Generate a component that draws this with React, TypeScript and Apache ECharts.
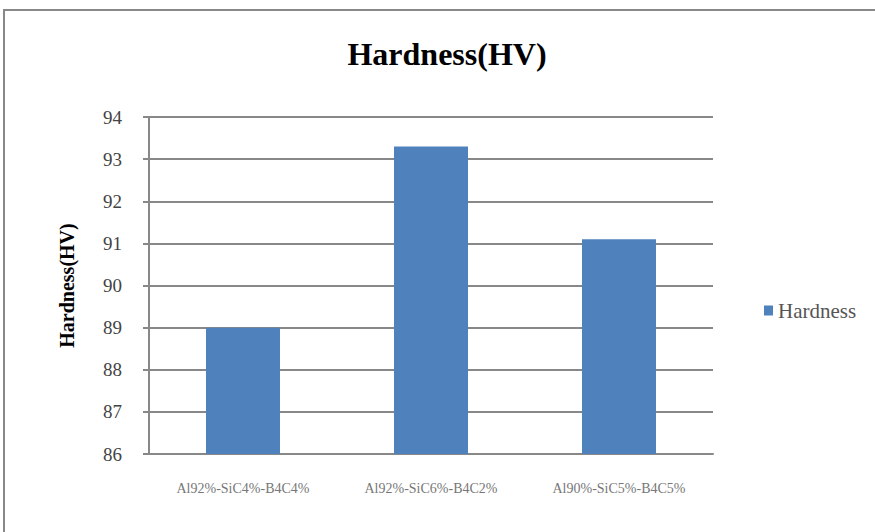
import React, { useEffect, useRef } from "react";
import * as echarts from "echarts";

const categories = ["Al92%-SiC4%-B4C4%", "Al92%-SiC6%-B4C2%", "Al90%-SiC5%-B4C5%"];
const hardness = [89.0, 93.3, 91.1];
const seriesName = "Hardness";
const titleText = "Hardness(HV)";
const yAxisName = "Hardness(HV)";

const SERIF = "'Liberation Serif', 'DejaVu Serif', serif";

export default function App() {
  const ref = useRef<HTMLDivElement>(null);

  useEffect(() => {
    if (!ref.current) return;
    const chart = echarts.init(ref.current, undefined, { renderer: "svg" });
    chart.setOption({
      animation: false,
      backgroundColor: "#ffffff",
      title: {
        text: titleText,
        left: 442,
        top: 33,
        textAlign: "center",
        textStyle: { fontFamily: SERIF, fontWeight: "bold", fontSize: 32, color: "#000" },
      },
      legend: {
        data: [seriesName],
        left: 759,
        top: 295,
        orient: "vertical",
        itemWidth: 9,
        itemHeight: 10,
        icon: "rect",
        textStyle: { fontFamily: SERIF, fontSize: 21, color: "#555" },
      },
      grid: { left: 149, right: 162, top: 117, bottom: 78, containLabel: false },
      xAxis: {
        type: "category",
        data: categories,
        axisLine: { show: true, lineStyle: { color: "#888", width: 2 } },
        axisTick: { show: false },
        axisLabel: { fontFamily: SERIF, fontSize: 14, color: "#777", margin: 27 },
      },
      yAxis: {
        type: "value",
        min: 86,
        max: 94,
        interval: 1,
        name: yAxisName,
        nameLocation: "middle",
        nameGap: 72,
        nameTextStyle: { fontFamily: SERIF, fontWeight: "bold", fontSize: 20, color: "#000" },
        axisLine: { show: true, lineStyle: { color: "#888", width: 2 } },
        axisTick: { show: true, length: 6, lineStyle: { color: "#888", width: 2 } },
        axisLabel: { fontFamily: SERIF, fontSize: 19, color: "#444", margin: 27 },
        splitLine: { show: true, lineStyle: { color: "#888", width: 2 } },
      },
      series: [
        {
          name: seriesName,
          type: "bar",
          data: hardness,
          barWidth: 74,
          itemStyle: { color: "#4f81bd" },
        },
      ],
      graphic: [
        {
          type: "rect",
          shape: { x: 4, y: 10, width: 900, height: 600 },
          style: { fill: "none", stroke: "#888", lineWidth: 2 },
          silent: true,
        },
      ],
    });
    return () => chart.dispose();
  }, []);

  return (
    <div
      ref={ref}
      style={{ position: "absolute", left: 0, top: 0, width: 875, height: 532 }}
    />
  );
}
